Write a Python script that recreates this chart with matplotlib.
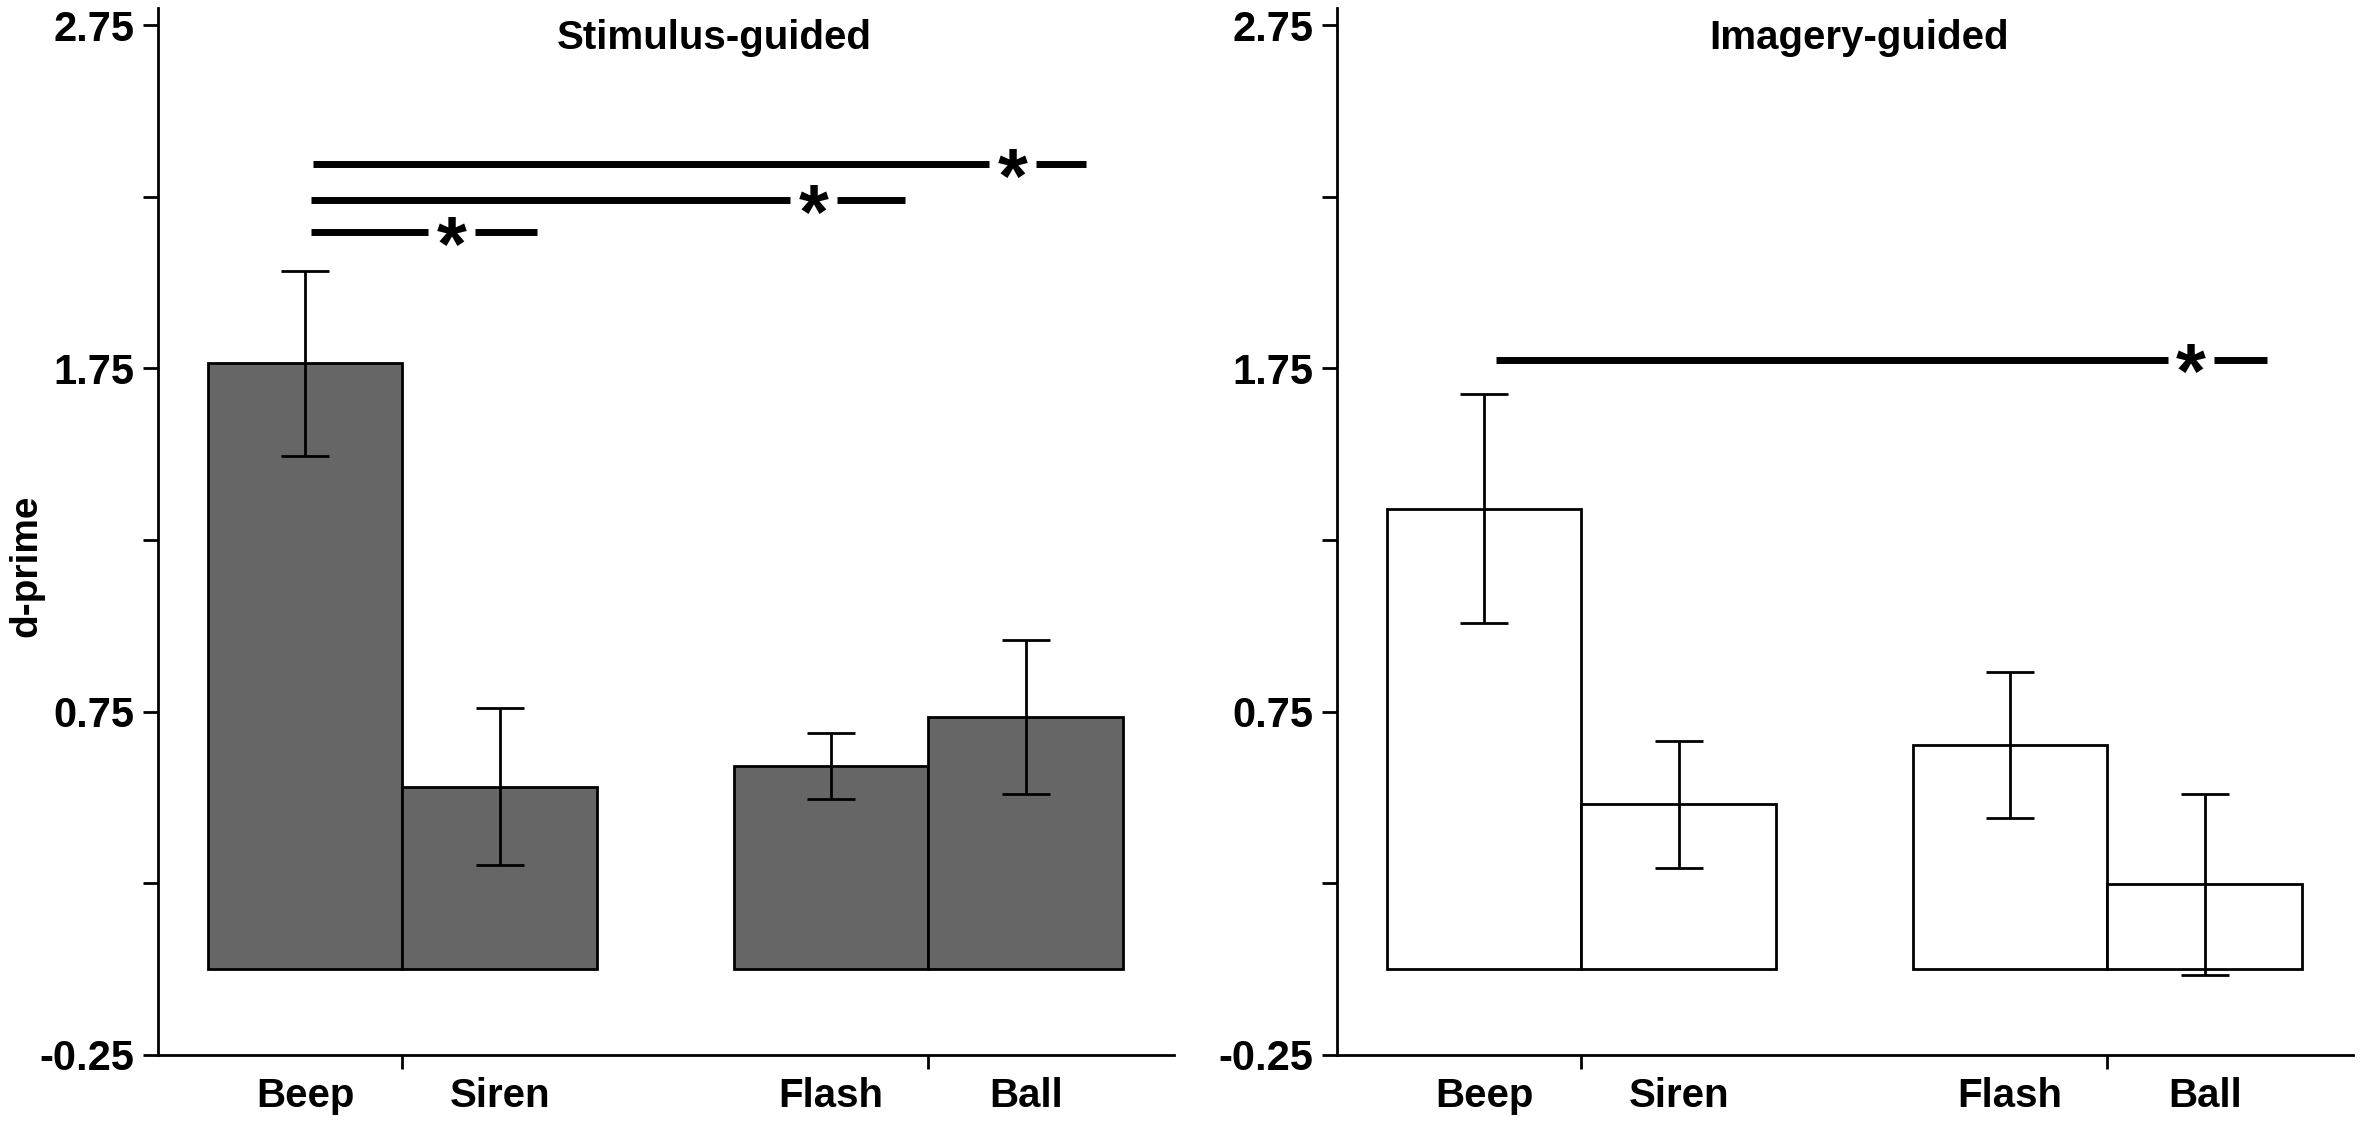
import matplotlib
matplotlib.use('Agg')
import matplotlib.pyplot as plt
from matplotlib.font_manager import FontProperties
from matplotlib.textpath import TextPath

plt.rcParams['font.family'] = ['Liberation Sans', 'DejaVu Sans']
plt.rcParams['font.weight'] = 'bold'
plt.rcParams['axes.unicode_minus'] = False

# data
conditions = ['Beep', 'Siren', 'Flash', 'Ball']
stim_mean = [1.765, 0.532, 0.592, 0.735]
stim_err = [0.270, 0.229, 0.095, 0.225]
imag_mean = [1.341, 0.480, 0.653, 0.247]
imag_err = [0.334, 0.185, 0.213, 0.263]

# significance bars: (y, x_start, x_star, x_end)
stim_sig = [(2.345, 0.04, 3.63, 4.01),
            (2.240, 0.03, 2.61, 3.08),
            (2.147, 0.03, 0.75, 1.19)]
imag_sig = [(1.775, 0.06, 3.63, 4.02)]

yticks = [-0.25, 0.75, 1.75, 2.75]
yticklabels = ['-0.25', '0.75', '1.75', '2.75']
yminor = [0.25, 1.25, 2.25]

# layout
xpos = [0, 1, 2.7, 3.7]
group_ticks = [0.5, 3.2]
XLIM = (-0.755, 4.46)
YLIM = (-0.25, 2.80)
TICK_FS = 30
LBL = 29
STAR_H = 20.5        # glyph height in points
GAP = 0.12


def star(ax, x, y):
    fp = FontProperties(family='Liberation Sans', weight='bold')
    bb = TextPath((0, 0), '*', size=1, prop=fp).get_extents()
    fs = STAR_H / bb.height
    yc = (bb.y0 + bb.y1) / 2 * fs
    ax.annotate('*', xy=(x, y), xytext=(0, -yc), textcoords='offset points',
                ha='center', va='baseline', fontsize=fs, fontweight='bold',
                zorder=5)


def panel(ax, means, errs, color, title, title_x, sigs):
    ax.bar(xpos, means, width=1.0, color=color, edgecolor='black',
           linewidth=2, zorder=2)
    ax.errorbar(xpos, means, yerr=errs, fmt='none', ecolor='black',
                elinewidth=2, capsize=17, capthick=2, zorder=3)
    for y, x0, xs, x1 in sigs:
        ax.plot([x0, xs - GAP], [y, y], color='black', lw=5,
                solid_capstyle='butt', zorder=4)
        ax.plot([xs + GAP, x1], [y, y], color='black', lw=5,
                solid_capstyle='butt', zorder=4)
        star(ax, xs, y)

    ax.set_xlim(*XLIM)
    ax.set_ylim(*YLIM)
    for s in ('top', 'right'):
        ax.spines[s].set_visible(False)
    for s in ('left', 'bottom'):
        ax.spines[s].set_linewidth(2)

    ax.set_yticks(yticks)
    ax.set_yticklabels(yticklabels)
    ax.set_yticks(yminor, minor=True)
    ax.tick_params(axis='y', which='both', length=11, width=2,
                   labelsize=TICK_FS, pad=6)

    ax.set_xticks(group_ticks)
    ax.set_xticklabels([])
    ax.set_xticks(xpos, minor=True)
    ax.set_xticklabels(conditions, minor=True)
    ax.tick_params(axis='x', which='major', length=10, width=2)
    ax.tick_params(axis='x', which='minor', length=0, labelsize=LBL, pad=16)

    ax.text(title_x, 2.713, title, ha='center', va='center', fontsize=LBL,
            fontweight='bold')


fig = plt.figure(figsize=(23.62, 11.27), dpi=100)
ax1 = fig.add_axes([0.0669, 0.0639, 0.4301, 0.9291])
ax2 = fig.add_axes([0.5660, 0.0639, 0.4301, 0.9291])

panel(ax1, stim_mean, stim_err, '#666666', 'Stimulus-guided', 2.10, stim_sig)
panel(ax2, imag_mean, imag_err, 'white', 'Imagery-guided', 1.925, imag_sig)

fig.text(0.011, 0.498, 'd-prime', rotation=90, ha='center', va='center',
         fontsize=28, fontweight='bold')

fig.savefig('out.png', dpi=100)
